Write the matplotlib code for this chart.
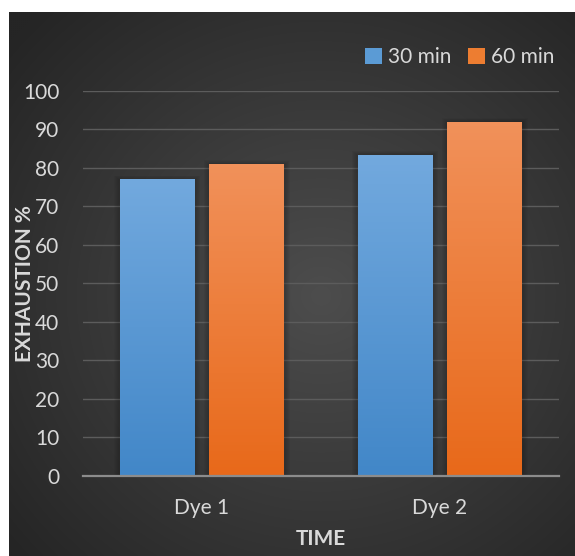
import numpy as np
import matplotlib
matplotlib.use("Agg")
from matplotlib import pyplot as plt
from matplotlib.patches import Rectangle, Patch

# exhaustion values per dye
dyes = ["Dye 1", "Dye 2"]
min30 = [77, 83.4]
min60 = [81, 92]
series_names = ["30 min", "60 min"]
yticks = [0, 10, 20, 30, 40, 50, 60, 70, 80, 90, 100]

plt.rcParams["font.family"] = ["Lato", "DejaVu Sans"]
txt = "#d9d9d9"

fig = plt.figure(figsize=(5.75, 5.56), dpi=100)
fig.patch.set_facecolor("white")

# dark background panel with a soft radial gradient
bg = fig.add_axes([9 / 575, 0, 566 / 575, 544 / 556])
h, w = 272, 283
yy, xx = np.mgrid[0:h, 0:w]
cx, cy = 0.55 * w, 0.52 * h
r = np.sqrt(((xx - cx) / w) ** 2 + ((yy - cy) / h) ** 2) / 0.72
r = np.clip(r, 0, 1)
inner = np.array([0x4d, 0x4d, 0x4d]) / 255
outer = np.array([0x25, 0x25, 0x25]) / 255
img = inner[None, None, :] * (1 - r[..., None]) + outer[None, None, :] * r[..., None]
bg.imshow(img, aspect="auto", interpolation="bilinear")
bg.axis("off")

ax = fig.add_axes([83 / 575, 1 - 475.7 / 556, 476 / 575, (475.7 - 91) / 556])
ax.set_facecolor("none")
ax.set_xlim(-0.5, 1.5)
ax.set_ylim(0, 100)

x = np.arange(len(dyes))
bw = 0.315
off = 0.189

grads = [("#72a9de", "#4287c8"), ("#f1915a", "#e8691a")]
for vals, sign, (top, bot) in zip([min30, min60], [-1, 1], grads):
    bars = ax.bar(x + sign * off, vals, width=bw, color=bot, zorder=3)
    for b in bars:
        bx, by = b.get_x(), b.get_y()
        bh = b.get_height()
        # soft shadow around each bar
        for k in range(1, 6):
            pad = 0.005 * k
            ax.add_patch(Rectangle((bx - pad, by), bw + 2 * pad, bh + pad * 40,
                                   facecolor="black", alpha=0.035, lw=0, zorder=2))
        c1 = np.array(matplotlib.colors.to_rgb(top))
        c2 = np.array(matplotlib.colors.to_rgb(bot))
        t = np.linspace(0, 1, 100)[:, None]
        g = (c1 * (1 - t) + c2 * t)[:, None, :]
        im = ax.imshow(g, extent=(bx, bx + bw, by, by + bh), aspect="auto",
                       origin="upper", zorder=4)
        im.set_clip_path(b)

ax.set_yticks(yticks)
ax.yaxis.grid(True, color="#5c5c5c", lw=1.0, zorder=0)
ax.set_xticks(x)
ax.set_xticklabels(dyes)
ax.tick_params(axis="both", length=0, labelsize=15, colors=txt)
ax.tick_params(axis="y", pad=17)
ax.tick_params(axis="x", pad=16)
for s in ["top", "right", "left"]:
    ax.spines[s].set_visible(False)
ax.spines["bottom"].set_color("#8c8c8c")
ax.spines["bottom"].set_linewidth(1.6)
ax.spines["bottom"].set_zorder(5)

ax.set_ylabel("EXHAUSTION %", fontsize=15, fontweight="bold", color=txt)
ax.yaxis.set_label_coords(-0.1, 0.5)
ax.set_xlabel("TIME", fontsize=15, fontweight="bold", color=txt, labelpad=8)

handles = [Patch(facecolor="#5b9bd5"), Patch(facecolor="#ed7d31")]
leg = fig.legend(handles, series_names, loc="center right",
                 bbox_to_anchor=(563 / 575, 1 - 57 / 556), ncol=2, frameon=False,
                 fontsize=15, handlelength=0.8, handleheight=0.8,
                 handletextpad=0.3, columnspacing=0.8, borderaxespad=0)
for t in leg.get_texts():
    t.set_color(txt)

fig.savefig("out.png", dpi=100, facecolor="white")
